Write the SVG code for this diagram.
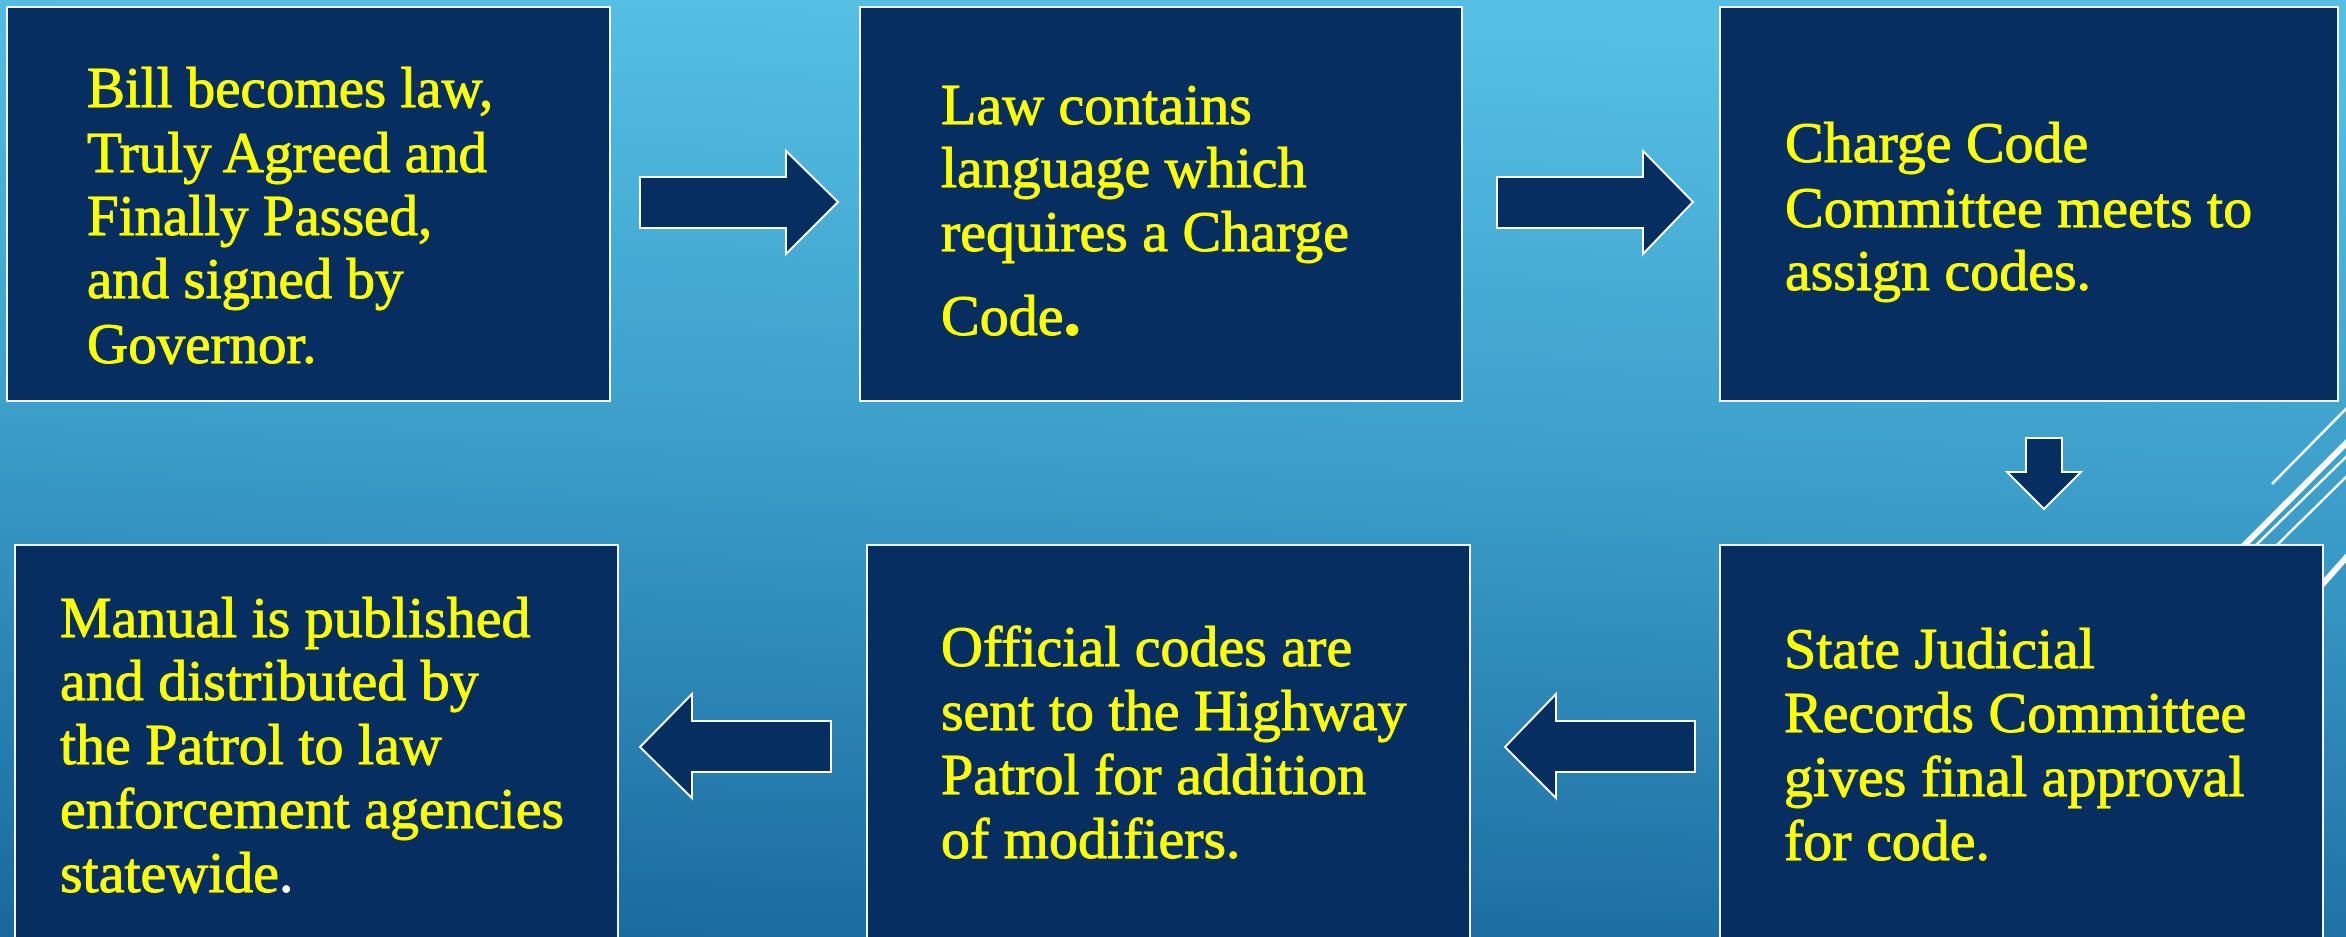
<svg xmlns="http://www.w3.org/2000/svg" width="2346" height="937" viewBox="0 0 2346 937">
<defs>
<linearGradient id="bg" x1="0.3" y1="0" x2="0.2" y2="1">
<stop offset="0" stop-color="#55bfe3"/>
<stop offset="0.5" stop-color="#3a9bc7"/>
<stop offset="1" stop-color="#1a6a9f"/>
</linearGradient>
<style>
.box{fill:#062e60;stroke:#f2f2f2;stroke-width:2}
.arr{fill:#062e60;stroke:#ffffff;stroke-width:2;stroke-linejoin:miter}
.t{font-family:"Liberation Serif","Times New Roman",serif;font-size:58px;fill:#ffff00;stroke:#ffff00;stroke-width:0.9}
.deco{stroke:#ffffff;fill:none}
</style>
</defs>
<rect x="0" y="0" width="2346" height="937" fill="url(#bg)"/>
<g id="decoration">
<line class="deco" x1="2272" y1="484" x2="2400" y2="354" stroke-width="2.5"/>
<line class="deco" x1="2100" y1="690" x2="2400" y2="389" stroke-width="6"/>
<line class="deco" x1="2100" y1="698" x2="2400" y2="404" stroke-width="2.5"/>
<line class="deco" x1="2100" y1="719" x2="2400" y2="424" stroke-width="2.5"/>
<line class="deco" x1="2200" y1="722" x2="2400" y2="497" stroke-width="6"/>
</g>
<g id="node1">
<rect class="box" x="7" y="7" width="603" height="394"/>
<text class="t" style="font-size:57px" x="87"><tspan x="87" y="107">Bill becomes law,</tspan><tspan x="87" y="172">Truly Agreed and</tspan><tspan x="87" y="235">Finally Passed,</tspan><tspan x="87" y="298">and signed by</tspan><tspan x="87" y="363">Governor.</tspan></text>
</g>
<g id="node2">
<rect class="box" x="860" y="7" width="602" height="394"/>
<text class="t" x="941"><tspan x="941" y="124">Law contains</tspan><tspan x="941" y="187">language which</tspan><tspan x="941" y="251">requires a Charge</tspan><tspan x="941" y="335">Code<tspan style="font-size:70px;font-weight:bold">.</tspan></tspan></text>
</g>
<g id="node3">
<rect class="box" x="1720" y="7" width="618" height="394"/>
<text class="t" x="1785"><tspan x="1785" y="162">Charge Code</tspan><tspan x="1785" y="227">Committee meets to</tspan><tspan x="1785" y="290">assign codes.</tspan></text>
</g>
<g id="node4">
<rect class="box" x="15" y="545" width="603" height="400"/>
<text class="t" x="60"><tspan x="60" y="637">Manual is published</tspan><tspan x="60" y="700">and distributed by</tspan><tspan x="60" y="764">the Patrol to law</tspan><tspan x="60" y="828">enforcement agencies</tspan><tspan x="60" y="892">statewide<tspan style="fill:#ffffff;stroke:#ffffff">.</tspan></tspan></text>
</g>
<g id="node5">
<rect class="box" x="867" y="545" width="603" height="400"/>
<text class="t" x="941"><tspan x="941" y="666">Official codes are</tspan><tspan x="941" y="730">sent to the Highway</tspan><tspan x="941" y="794">Patrol for addition</tspan><tspan x="941" y="858">of modifiers.</tspan></text>
</g>
<g id="node6">
<rect class="box" x="1720" y="545" width="603" height="400"/>
<text class="t" x="1784"><tspan x="1784" y="668">State Judicial</tspan><tspan x="1784" y="732">Records Committee</tspan><tspan x="1784" y="796">gives final approval</tspan><tspan x="1784" y="860">for code.</tspan></text>
</g>
<g id="connectors">
<polygon class="arr" points="640,177 786,177 786,151 838,202 786,254 786,228 640,228"/>
<polygon class="arr" points="1497,177 1643,177 1643,151 1693,202 1643,254 1643,228 1497,228"/>
<polygon class="arr" points="2026,438 2062,438 2062,472 2081,472 2044,509 2007,472 2026,472"/>
<polygon class="arr" points="1695,721 1556,721 1556,694 1505,747 1556,798 1556,772 1695,772"/>
<polygon class="arr" points="831,721 692,721 692,694 640,747 692,798 692,772 831,772"/>
</g>
</svg>
